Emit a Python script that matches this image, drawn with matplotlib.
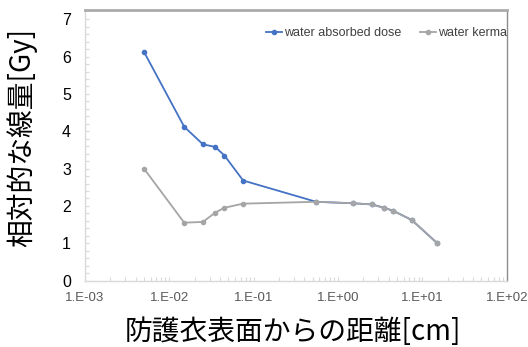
import matplotlib.pyplot as plt
from matplotlib.ticker import LogLocator, NullFormatter

# 距離[cm]
distance = [0.005, 0.015, 0.025, 0.035, 0.045, 0.075, 0.55, 1.5, 2.5, 3.5, 4.5, 7.5, 15]
absorbed_dose = [6.13, 4.12, 3.65, 3.58, 3.35, 2.68, 2.11, 2.07, 2.04, 1.95, 1.87, 1.62, 1.0]
absorbed_err = [0.05, 0.03, 0.02, 0.03, 0.03, 0.02, 0.01, 0.01, 0.01, 0.01, 0.01, 0.01, 0.01]
kerma = [3.0, 1.55, 1.57, 1.82, 1.95, 2.06, 2.11, 2.07, 2.04, 1.95, 1.87, 1.62, 1.0]

x_ticks = [1e-3, 1e-2, 1e-1, 1e0, 1e1, 1e2]
x_tick_labels = ["1.E-03", "1.E-02", "1.E-01", "1.E+00", "1.E+01", "1.E+02"]
y_ticks = [0, 1, 2, 3, 4, 5, 6, 7]

plt.rcParams["font.family"] = ["Noto Sans CJK JP", "DejaVu Sans"]

fig = plt.figure(figsize=(5.28, 3.47), dpi=100)
ax = fig.add_axes([0.161, 0.1916, 0.7987, 0.7796])

# 水吸収線量（誤差棒つき）、その上に水カーマを重ねる
ax.errorbar(distance, absorbed_dose, yerr=absorbed_err, fmt="none",
            ecolor="#4472C4", elinewidth=0.8, capsize=0, zorder=2)
dose_line, = ax.plot(distance, absorbed_dose, color="#4472C4", lw=1.3,
                     marker="o", ms=3, zorder=2, label="water absorbed dose")
kerma_line, = ax.plot(distance, kerma, color="#A5A5A5", lw=1.3, marker="o", ms=3,
                      zorder=3, label="water kerma")

ax.set_xscale("log")
ax.set_xlim(1e-3, 1e2)
ax.set_ylim(0, 7.25)
ax.set_xticks(x_ticks)
ax.set_xticklabels(x_tick_labels, family="Liberation Sans", fontsize=9.5, color="#595959")
ax.xaxis.set_minor_locator(LogLocator(base=10, subs=range(2, 10), numticks=20))
ax.xaxis.set_minor_formatter(NullFormatter())
ax.set_yticks(y_ticks)
ax.set_yticklabels([str(v) for v in y_ticks], family="Liberation Sans", fontsize=11.5)
ax.set_yticks([v / 5 for v in range(0, 36)], minor=True)

ax.tick_params(axis="both", which="both", direction="in", length=3, width=0.8,
               color="#D9D9D9")
ax.tick_params(axis="x", pad=8)
ax.tick_params(axis="y", pad=10)

for side in ["left", "bottom"]:
    ax.spines[side].set_color("#D9D9D9")
    ax.spines[side].set_linewidth(1)
ax.spines["top"].set_color("#ABABAB")
ax.spines["top"].set_linewidth(2)
ax.spines["right"].set_color("#8C8C8C")
ax.spines["right"].set_linewidth(1)

leg = ax.legend(handles=[dose_line, kerma_line], ncol=2, frameon=False,
                loc="center right",
                bbox_to_anchor=(507 / 528, 1 - 33 / 347), bbox_transform=fig.transFigure,
                handlelength=1.3, handletextpad=0.15, columnspacing=1.5,
                borderaxespad=0, borderpad=0,
                prop={"family": "Liberation Sans", "size": 9})
for t in leg.get_texts():
    t.set_color("#404040")

fig.text(0.042, 0.605, "相対的な線量[Gy]", rotation=90, ha="center", va="center",
         fontsize=20)
fig.text(0.554, 0.043, "防護衣表面からの距離[cm]", ha="center", va="center",
         fontsize=20)

plt.savefig("out.png", dpi=100)
